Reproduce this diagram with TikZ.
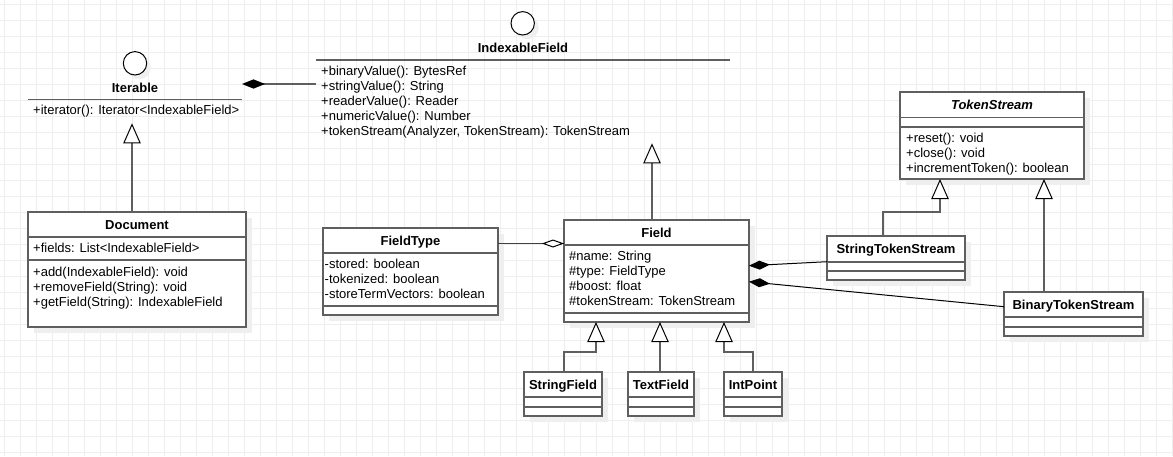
\documentclass[tikz,border=0pt]{standalone}
\usepackage{fontspec}
\setmainfont{Liberation Sans}
\usetikzlibrary{arrows.meta}
\definecolor{gridc}{HTML}{EEEEEE}
\definecolor{linec}{HTML}{5F5F5F}
\definecolor{shadowc}{HTML}{EFEFEF}
\begin{document}
\begin{tikzpicture}[x=1pt,y=-1pt,
  txtfont/.style={font=\fontsize{13pt}{15pt}\selectfont},
  cls/.style={draw=linec, line width=1.6pt, fill=white, anchor=north west, inner sep=0pt, outer sep=0pt},
  shadowbox/.style={fill=shadowc, draw=none},
  sepline/.style={draw=linec, line width=1.6pt},
  ttl/.style={txtfont, font=\fontsize{13pt}{15pt}\selectfont\bfseries, anchor=base, inner sep=0pt},
  mem/.style={txtfont, anchor=base west, inner sep=0pt},
  iface/.style={circle, draw=black, line width=1pt, fill=white, minimum size=23.4pt, inner sep=0pt},
  gen/.style={draw=linec, line width=1.6pt, -{Triangle[length=20pt, width=17.4pt, line width=1pt, color=black, fill=white]}},
  comp/.style={draw=black, line width=1pt, -{Diamond[length=21pt, width=9pt]}},
  compg/.style={draw=linec, line width=1.6pt, -{Diamond[length=23pt, width=9.3pt, color=black]}},
  aggr/.style={draw=black!75, line width=1.2pt, -{Diamond[length=22pt, width=8pt, line width=1pt, color=black, fill=white]}}
]
% background and grid
\useasboundingbox (0,0) rectangle (1173,456);
\fill[white] (0,0) rectangle (1173,456);
\foreach \i in {0,...,73} \draw[gridc, line width=0.8pt] (4.5+16*\i,0) -- (4.5+16*\i,456);
\foreach \i in {0,...,28} \draw[gridc, line width=0.8pt] (0,4.5+16*\i) -- (1173,4.5+16*\i);

% ---------- Iterable (interface) ----------
\fill[shadowc] (139,67.5) circle (11.7);
\node[iface] (iterable-c) at (135,63.3) {};
\node[ttl] (iterable) at (135,92.7) {Iterable};
\draw[sepline] (28,99.3) -- (242,99.3);
\node[mem] (iterable-m1) at (33,114.5) {+iterator(): Iterator<IndexableField>};
\coordinate (iterable-bottom) at (132,123.3);
\coordinate (iterable-right) at (242,84);

% ---------- IndexableField (interface) ----------
\fill[shadowc] (527,27.5) circle (11.7);
\node[iface] (ifield-c) at (522.7,23.3) {};
\node[ttl] (ifield) at (523,52.7) {IndexableField};
\draw[sepline] (316,60) -- (730,60);
\node[mem] (ifield-m1) at (321,75) {+binaryValue(): BytesRef};
\node[mem] (ifield-m2) at (321,90) {+stringValue(): String};
\node[mem] (ifield-m3) at (321,105) {+readerValue(): Reader};
\node[mem] (ifield-m4) at (321,120) {+numericValue(): Number};
\node[mem] (ifield-m5) at (321,135) {+tokenStream(Analyzer, TokenStream): TokenStream};
\coordinate (ifield-left) at (316,84);
\coordinate (ifield-bottom) at (652,143.3);

% ---------- Document ----------
\fill[shadowbox] (34,218) rectangle (252,333);
\node[cls, minimum width=218pt, minimum height=115pt] (doc) at (28,212) {};
\node[ttl] (doc-t) at (137,229.3) {Document};
\draw[sepline] (28,236.7) -- (246,236.7);
\node[mem] (doc-a1) at (33,252.5) {+fields: List<IndexableField>};
\draw[sepline] (28,260) -- (246,260);
\node[mem] (doc-m1) at (33,276) {+add(IndexableField): void};
\node[mem] (doc-m2) at (33,291) {+removeField(String): void};
\node[mem] (doc-m3) at (33,306) {+getField(String): IndexableField};

% ---------- FieldType ----------
\fill[shadowbox] (329,234) rectangle (504,321);
\node[cls, minimum width=175pt, minimum height=87pt] (ftype) at (323,228) {};
\node[ttl] (ftype-t) at (410.5,245.7) {FieldType};
\draw[sepline] (323,252.7) -- (498,252.7);
\node[mem] (ftype-a1) at (324.5,268.5) {-stored: boolean};
\node[mem] (ftype-a2) at (324.5,283.5) {-tokenized: boolean};
\node[mem] (ftype-a3) at (324.5,298.5) {-storeTermVectors: boolean};
\draw[sepline] (323,306) -- (498,306);

% ---------- Field ----------
\fill[shadowbox] (570,226) rectangle (755,328);
\node[cls, minimum width=185pt, minimum height=102pt] (field) at (564,220) {};
\node[ttl] (field-t) at (656.5,237.3) {Field};
\draw[sepline] (564,245) -- (749,245);
\node[mem] (field-a1) at (569,260.3) {\#name: String};
\node[mem] (field-a2) at (569,275.3) {\#type: FieldType};
\node[mem] (field-a3) at (569,290.3) {\#boost: float};
\node[mem] (field-a4) at (569,305.3) {\#tokenStream: TokenStream};
\draw[sepline] (564,313) -- (749,313);

% ---------- TokenStream ----------
\fill[shadowbox] (906,98) rectangle (1090,185);
\node[cls, minimum width=184pt, minimum height=87pt] (ts) at (900,92) {};
\node[ttl, font=\fontsize{13pt}{15pt}\selectfont\bfseries\itshape] (ts-t) at (992,109.3) {TokenStream};
\draw[sepline] (900,117.3) -- (1084,117.3);
\draw[sepline] (900,126.7) -- (1084,126.7);
\node[mem] (ts-m1) at (906,142.3) {+reset(): void};
\node[mem] (ts-m2) at (906,157.3) {+close(): void};
\node[mem] (ts-m3) at (906,172.3) {+incrementToken(): boolean};

% ---------- StringTokenStream ----------
\fill[shadowbox] (833,242) rectangle (971,286);
\node[cls, minimum width=138pt, minimum height=44pt] (sts) at (827,236) {};
\node[ttl] (sts-t) at (896,253.3) {StringTokenStream};
\draw[sepline] (827,261.7) -- (965,261.7);
\draw[sepline] (827,271) -- (965,271);

% ---------- BinaryTokenStream ----------
\fill[shadowbox] (1010,298) rectangle (1149,342);
\node[cls, minimum width=139pt, minimum height=44pt] (bts) at (1004,292) {};
\node[ttl] (bts-t) at (1073.5,309.3) {BinaryTokenStream};
\draw[sepline] (1004,317) -- (1143,317);
\draw[sepline] (1004,326.7) -- (1143,326.7);

% ---------- StringField / TextField / IntPoint ----------
\fill[shadowbox] (530,378) rectangle (608,422);
\node[cls, minimum width=78pt, minimum height=44pt] (sfield) at (524,372) {};
\node[ttl] (sfield-t) at (563,389.3) {StringField};
\draw[sepline] (524,396.7) -- (602,396.7);
\draw[sepline] (524,406.7) -- (602,406.7);

\fill[shadowbox] (634,378) rectangle (700,422);
\node[cls, minimum width=66pt, minimum height=44pt] (tfield) at (628,372) {};
\node[ttl] (tfield-t) at (661,389.3) {TextField};
\draw[sepline] (628,396.7) -- (694,396.7);
\draw[sepline] (628,406.7) -- (694,406.7);

\fill[shadowbox] (730,378) rectangle (788,422);
\node[cls, minimum width=58pt, minimum height=44pt] (ipoint) at (724,372) {};
\node[ttl] (ipoint-t) at (753,389.3) {IntPoint};
\draw[sepline] (724,396.7) -- (782,396.7);
\draw[sepline] (724,406.7) -- (782,406.7);

% ---------- connectors ----------
% IndexableField composed in Iterable
\draw[compg] (ifield-left) -- (iterable-right);
% Document realizes Iterable
\draw[gen] ([xshift=-5pt]doc.north) -- (iterable-bottom);
% Field realizes IndexableField
\draw[gen] ([xshift=-4.5pt]field.north) -- (ifield-bottom);
% FieldType aggregated in Field
\draw[aggr] ([yshift=28pt]ftype.east) -- ([yshift=27.5pt]field.west);
% token streams composed in Field
\draw[comp] ([yshift=-3.7pt]sts.west) -- ([yshift=5.3pt]field.east);
\draw[comp] ([yshift=7.3pt]bts.west) -- ([yshift=-10.7pt]field.east);
% token stream generalizations
\draw[gen] ([xshift=-13pt]sts.north) -- ++(0,-24.3) -| ([xshift=-52pt]ts.south);
\draw[gen] ([xshift=-29.5pt]bts.north) -- ([xshift=52pt]ts.south);
% field subclasses
\draw[gen] ([xshift=1pt]sfield.north) -- ++(0,-20.3) -| ([xshift=-60.5pt]field.south);
\draw[gen] ([xshift=-1pt]tfield.north) -- ([xshift=3.5pt]field.south);
\draw[gen] (ipoint.north) -- ++(0,-20.3) -| ([xshift=67.5pt]field.south);
\end{tikzpicture}
\end{document}
